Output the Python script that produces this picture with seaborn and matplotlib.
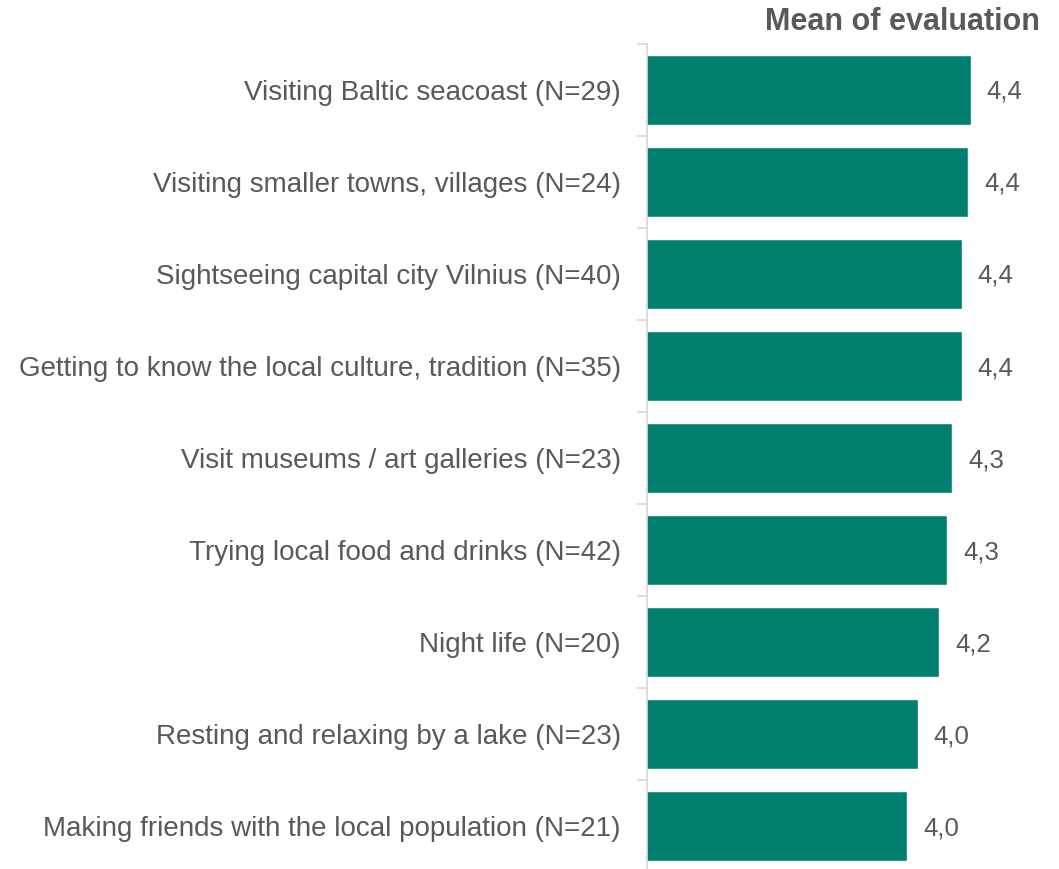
import matplotlib
matplotlib.use("Agg")
import matplotlib.pyplot as plt
import seaborn as sns
import pandas as pd
from matplotlib.ticker import FixedLocator

categories = [
    "Visiting Baltic seacoast (N=29)",
    "Visiting smaller towns, villages (N=24)",
    "Sightseeing capital city Vilnius (N=40)",
    "Getting to know the local culture, tradition (N=35)",
    "Visit museums / art galleries (N=23)",
    "Trying local food and drinks (N=42)",
    "Night life (N=20)",
    "Resting and relaxing by a lake (N=23)",
    "Making friends with the local population (N=21)",
]
means = [4.44, 4.42, 4.37, 4.37, 4.30, 4.26, 4.20, 4.04, 3.96]
title = "Mean of evaluation"

BAR = "#007F6F"
TXT = "#595959"
AXIS = "#D9D9D9"

sns.set_style("white")
plt.rcParams["font.family"] = ["Liberation Sans", "DejaVu Sans"]

df = pd.DataFrame({"activity": categories, "mean": means})

fig = plt.figure(figsize=(10.59, 8.69), dpi=100)
ax = fig.add_axes([0.611, -0.004, 0.376, 0.9534])

sns.barplot(data=df, y="activity", x="mean", orient="h", color=BAR,
            saturation=1, width=0.76, ax=ax)

ax.set_xlim(2.0, 5.0)
ax.set_ylim(len(categories) - 0.5, -0.5)

for sp in ["top", "right", "bottom"]:
    ax.spines[sp].set_visible(False)
ax.spines["left"].set_color(AXIS)
ax.spines["left"].set_linewidth(1.3)

ax.set_xticks([])
ax.set_xlabel("")
ax.set_ylabel("")
ax.tick_params(axis="y", which="major", length=0, pad=19, labelsize=20,
               labelcolor=TXT)
ax.yaxis.set_minor_locator(FixedLocator([i - 0.5 for i in range(len(categories) + 1)]))
ax.tick_params(axis="y", which="minor", length=7, width=1.3, color=AXIS, left=True)

for bar, v in zip(ax.patches, means):
    ax.text(bar.get_width() + 0.12, bar.get_y() + bar.get_height() / 2 + 0.02,
            f"{v:.1f}".replace(".", ","), va="center", ha="left",
            fontsize=18.5, color=TXT)

fig.text(0.982, 0.9747, title, ha="right", va="center", fontsize=22,
         fontweight="bold", color=TXT)

fig.savefig("out.png", dpi=100)
